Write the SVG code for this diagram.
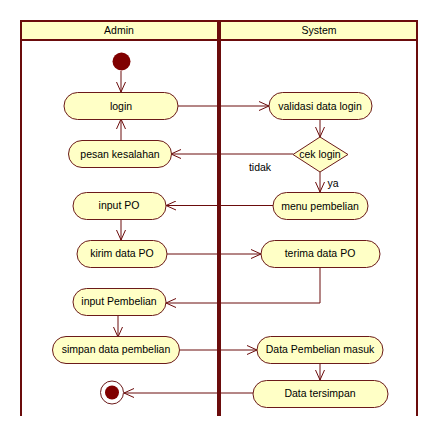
<svg xmlns="http://www.w3.org/2000/svg" width="439" height="436" viewBox="0 0 439 436">
<style>
.lane{stroke:#6b0c0c;fill:none}
.node{fill:#ffffc6;stroke:#6b1a1a;stroke-width:1}
.t{font-family:"Liberation Sans",Arial,sans-serif;font-size:10.5px;fill:#000;text-anchor:middle}
.c{stroke:#6b0c0c;stroke-width:1;fill:none;marker-end:url(#arr)}
</style>
<defs>
<marker id="arr" viewBox="0 0 10 10" refX="10" refY="5" markerWidth="10" markerHeight="10" markerUnits="userSpaceOnUse" orient="auto">
<path d="M0,0.5 L10,5 L0,9.5" fill="none" stroke="#6b0c0c" stroke-width="1"/>
</marker>
</defs>
<rect width="439" height="436" fill="#fff"/>
<g id="lanes">
<rect x="20" y="20" width="398" height="20" fill="#ffffc6"/>
<path class="lane" stroke-width="2" d="M21,416 V21 H417 V416 M20,40 H418"/>
<line class="lane" x1="219" y1="20" x2="219" y2="416" stroke-width="4"/>
<text class="t" x="119" y="34">Admin</text>
<text class="t" x="319" y="34">System</text>
</g>
<g id="connectors">
<path class="c" d="M121,71 V92"/>
<path class="c" d="M178,106 H269"/>
<path class="c" d="M320,119 V137"/>
<path class="c" d="M293,154 H171"/>
<path class="c" d="M121,140 V119"/>
<path class="c" d="M320,172 V192"/>
<path class="c" d="M273,205.5 H166"/>
<path class="c" d="M121,219 V240"/>
<path class="c" d="M167,254 H261"/>
<path class="c" d="M320,268 V303 H166"/>
<path class="c" d="M118,315 V337"/>
<path class="c" d="M180,350 H257"/>
<path class="c" d="M320,363 V380"/>
<path class="c" d="M253,393 H124"/>
<text class="t" x="260" y="171">tidak</text>
<text class="t" x="333" y="187">ya</text>
</g>
<g id="start"><circle cx="121.5" cy="61.5" r="9" fill="#800000"/></g>
<g id="login"><rect class="node" x="64" y="92.5" width="114" height="27" rx="13.5"/><text class="t" x="121" y="110">login</text></g>
<g id="pesan"><rect class="node" x="68.5" y="140.5" width="103" height="27" rx="13.5"/><text class="t" x="120" y="158">pesan kesalahan</text></g>
<g id="validasi"><rect class="node" x="269" y="92.5" width="103" height="27" rx="13.5"/><text class="t" x="320" y="110">validasi data login</text></g>
<g id="ceklogin"><polygon class="node" points="320,137 348,154.5 320,172 293,154.5"/><text class="t" x="320" y="158">cek login</text></g>
<g id="menu"><rect class="node" x="273" y="192.5" width="95" height="27" rx="13.5"/><text class="t" x="320" y="210">menu pembelian</text></g>
<g id="inputpo"><rect class="node" x="73" y="192.5" width="93" height="27" rx="13.5"/><text class="t" x="119" y="209">input PO</text></g>
<g id="kirim"><rect class="node" x="77" y="240.5" width="90" height="27" rx="13.5"/><text class="t" x="122" y="257">kirim data PO</text></g>
<g id="terima"><rect class="node" x="261" y="240.5" width="119" height="27" rx="13.5"/><text class="t" x="320" y="257">terima data PO</text></g>
<g id="inputpembelian"><rect class="node" x="73" y="288.5" width="93" height="27" rx="13.5"/><text class="t" x="119" y="305">input Pembelian</text></g>
<g id="simpan"><rect class="node" x="52.5" y="336.5" width="127" height="27" rx="13.5"/><text class="t" x="116" y="353">simpan data pembelian</text></g>
<g id="masuk"><rect class="node" x="257" y="336.5" width="126" height="27" rx="13.5"/><text class="t" x="320" y="353">Data Pembelian masuk</text></g>
<g id="tersimpan"><rect class="node" x="253" y="380.5" width="135" height="27" rx="13.5"/><text class="t" x="320" y="397">Data tersimpan</text></g>
<g id="end"><circle cx="112" cy="392.5" r="11.5" fill="#fff" stroke="#6b1a1a" stroke-width="1"/><circle cx="112" cy="392.5" r="7" fill="#800000"/></g>
</svg>
